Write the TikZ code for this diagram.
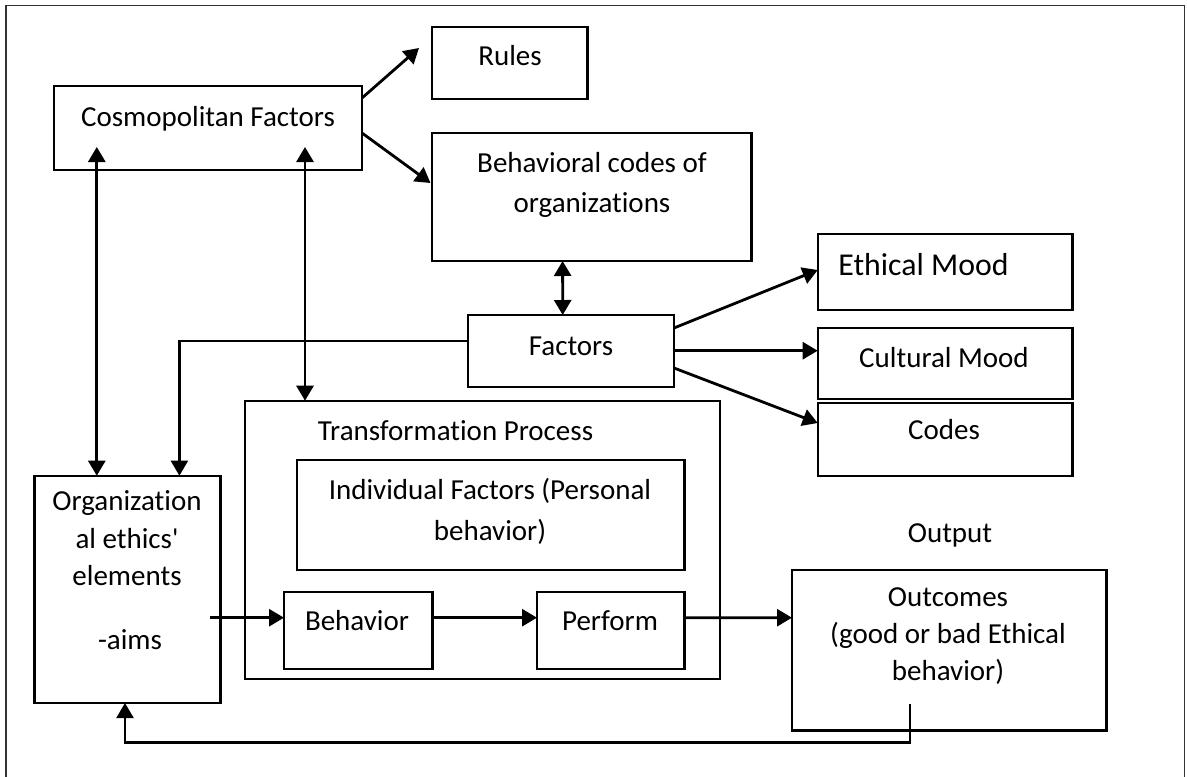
\documentclass[tikz,border=0pt]{standalone}
\usepackage{fontspec}
\newfontfamily\calib{Carlito}[Ligatures={NoCommon}]
\usetikzlibrary{arrows.meta,calc,fit}
\begin{document}
\begin{tikzpicture}[x=0.5pt,y=-0.5pt,
  box/.style={draw, line width=1.1pt, inner sep=0pt, outer sep=0pt},
  txt/.style={inner sep=0pt, font=\calib\fontsize{14.5}{17}\selectfont, anchor=base},
  bigtxt/.style={inner sep=0pt, font=\calib\fontsize{15.9}{19}\selectfont, anchor=base west},
  arr/.style={line width=1.4pt, -{Triangle[length=7.5pt,width=8.5pt]}},
  darr/.style={line width=1.4pt, {Triangle[length=7.5pt,width=8.5pt]}-{Triangle[length=7.5pt,width=8.5pt]}},
  thinarr/.style={line width=1.1pt, -{Triangle[length=7.5pt,width=8.5pt]}},
  frame/.style={draw=black!80, line width=0.9pt}]
\useasboundingbox (0,0) rectangle (1187,776);
\draw[frame] (6,790) -- (6,5.5) -- (1184.5,5.5) -- (1184.5,790);

% boxes
\node[box, fit={(432,27)(587.5,98.7)}] (rules) {};
\node[box, fit={(53.6,86)(362,170)}] (cosmo) {};
\node[box, fit={(432,133)(751.5,261)}] (behav) {};
\node[box, fit={(467.7,315)(674,387)}] (factors) {};
\node[box, fit={(817.7,234)(1072.5,310)}] (ethical) {};
\node[box, fit={(817.7,328)(1072.5,399.3)}] (cultural) {};
\node[box, fit={(817.7,403.2)(1072.5,476)}] (codes) {};
\node[box, fit={(245,400.7)(719.8,679)}] (trans) {};
\node[box, fit={(297,460)(684.5,569.7)}] (indiv) {};
\node[box, fit={(34.4,475.7)(220.4,703)}] (org) {};
\node[box, fit={(284,592)(432.5,668.7)}] (behavior) {};
\node[box, fit={(537,592)(684.5,668.7)}] (perform) {};
\node[box, fit={(792,570)(1106.5,730.5)}] (outcomes) {};

% texts
\node[txt] (rules-t) at (510,65) {Rules};
\node[txt] (cosmo-t) at (208,126) {Cosmopolitan Factors};
\node[txt] (behav-t1) at (592,172) {Behavioral codes of};
\node[txt] (behav-t2) at (592,212) {organizations};
\node[txt] (factors-t) at (571,355) {Factors};
\node[bigtxt] (ethical-t) at (838,275) {Ethical Mood};
\node[txt] (cultural-t) at (944,367.7) {Cultural Mood};
\node[txt] (codes-t) at (944,439) {Codes};
\node[txt, anchor=base west] (trans-t) at (317.5,440) {Transformation Process};
\node[txt] (indiv-t1) at (490,499) {Individual Factors (Personal};
\node[txt] (indiv-t2) at (490,540.7) {behavior)};
\node[txt] (org-t1) at (127,510.7) {Organization};
\node[txt] (org-t2) at (127,548) {al ethics'};
\node[txt] (org-t3) at (127,585.7) {elements};
\node[txt] (org-t4) at (130,649.3) {-aims};
\node[txt] (behavior-t) at (357,630.7) {Behavior};
\node[txt] (perform-t) at (610,630.7) {Perform};
\node[txt] (output-t) at (950,542.7) {Output};
\node[txt] (out-t1) at (948,606) {Outcomes};
\node[txt] (out-t2) at (948,643) {(good or bad Ethical};
\node[txt] (out-t3) at (948,680) {behavior)};

% connectors
\draw[arr] ($(cosmo.north east)+(0,12)$) -- ($(rules.north west)+(-13,21)$);
\draw[arr] ($(cosmo.north east)+(0,47)$) -- ($(behav.north west)+(-1.5,50)$);
\draw[darr] ($(behav.south west)+(130.6,0)$) -- ($(factors.north west)+(95,0)$);
\draw[thinarr] ($(factors.north west)+(0,25.7)$) -| ($(org.north west)+(145,0)$);
\draw[darr] ($(org.north west)+(62.4,0)$) -- ($(cosmo.north west)+(43.2,61)$);
\draw[darr] ($(cosmo.north west)+(251.4,61)$) -- ($(trans.north west)+(60,0)$);
\draw[arr] ($(factors.north east)+(0,13)$) -- ($(ethical.north west)+(0,36)$);
\draw[arr] ($(factors.north east)+(0,35.7)$) -- ($(cultural.north west)+(0,22.7)$);
\draw[arr] ($(factors.north east)+(0,53)$) -- ($(codes.north west)+(0,19.8)$);
\draw[arr] ($(org.north east)+(-10,142)$) -- ($(behavior.north west)+(0,25.7)$);
\draw[arr] ($(behavior.north east)+(0,25.7)$) -- ($(perform.north west)+(0,25.7)$);
\draw[arr] ($(perform.north east)+(0,25.7)$) -- ($(outcomes.north west)+(0,47.7)$);
\draw[thinarr] ($(outcomes.south west)+(118,-27)$) -- ++(0,39) -| ($(org.south west)+(90.6,0)$);
\end{tikzpicture}
\end{document}
